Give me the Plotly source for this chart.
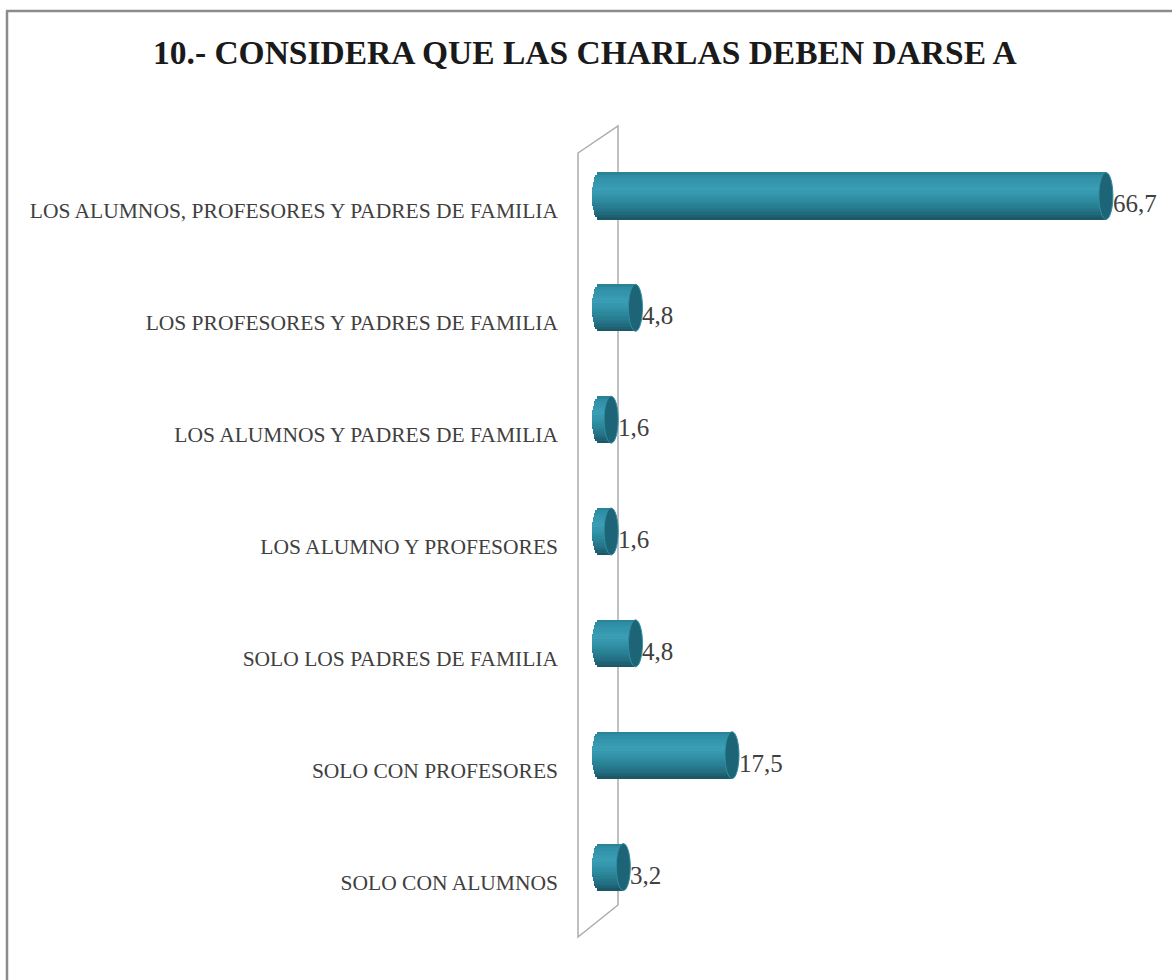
import math
import plotly.graph_objects as go

# ---- data ----
categories = [
    "LOS ALUMNOS, PROFESORES Y PADRES DE FAMILIA",
    "LOS PROFESORES Y PADRES DE FAMILIA",
    "LOS ALUMNOS Y PADRES DE FAMILIA",
    "LOS ALUMNO Y PROFESORES",
    "SOLO LOS PADRES DE FAMILIA",
    "SOLO CON PROFESORES",
    "SOLO CON ALUMNOS",
]
values = [66.7, 4.8, 1.6, 1.6, 4.8, 17.5, 3.2]
value_labels = ["66,7", "4,8", "1,6", "1,6", "4,8", "17,5", "3,2"]
title_text = "10.- CONSIDERA QUE LAS CHARLAS DEBEN DARSE A"

# ---- geometry (pixels) ----
W, H = 1172, 980
X0 = 599          # pixel where value 0 sits
S = 7.6           # pixels per unit
PL, PR = 575, 1165
PT, PB = 140, 923
HW_PX = 7         # half width of cylinder end ellipse
xmin = -(X0 - PL) / S
xmax = (PR - X0) / S
hw = HW_PX / S
bw = 0.42         # bar thickness (category units)

def hex2rgb(h):
    h = h.lstrip("#")
    return tuple(int(h[i:i + 2], 16) for i in (0, 2, 4))

stops = [(0.0, "#2a7e92"), (0.08, "#2f8fa7"), (0.35, "#3c9fb6"),
         (0.6, "#2e8ba1"), (0.85, "#236f82"), (1.0, "#1a5463")]

def grad(t):
    for (t0, c0), (t1, c1) in zip(stops[:-1], stops[1:]):
        if t0 <= t <= t1:
            a = (t - t0) / (t1 - t0) if t1 > t0 else 0
            r0, g0, b0 = hex2rgb(c0)
            r1, g1, b1 = hex2rgb(c1)
            return "rgb(%d,%d,%d)" % (r0 + (r1 - r0) * a, g0 + (g1 - g0) * a, b0 + (b1 - b0) * a)
    return stops[-1][1]

fig = go.Figure()
N = 20
for i in range(N):
    t = (i + 0.5) / N
    b = -hw * math.sqrt(max(0.0, 1 - (2 * t - 1) ** 2))
    fig.add_trace(go.Bar(
        x=[v - b for v in values], y=categories, orientation="h", base=b,
        width=bw / N * 1.08, offset=-bw / 2 + i * bw / N,
        marker=dict(color=grad(t), line=dict(width=0)),
        hoverinfo="skip", showlegend=False,
    ))

shapes = []
def pxx(px):
    return (px - PL) / (PR - PL)
def pxy(py):
    return 1 - (py - PT) / (PB - PT)

# back wall (3D side wall)
wall = [(578, 153), (618, 126), (618, 905), (578, 937)]
path = "M " + " L ".join("%f,%f" % (pxx(a), pxy(b)) for a, b in wall) + " Z"
shapes.append(dict(type="path", xref="paper", yref="paper", path=path,
                   line=dict(color="#acacac", width=1.5), fillcolor="rgba(0,0,0,0)", layer="below"))

# outer frame (top and left)
shapes.append(dict(type="line", xref="paper", yref="paper", x0=pxx(7), x1=pxx(7), y0=pxy(11), y1=pxy(990),
                   line=dict(color="#8c8c8c", width=2.5)))
shapes.append(dict(type="line", xref="paper", yref="paper", x0=pxx(6), x1=pxx(1180), y0=pxy(11), y1=pxy(11),
                   line=dict(color="#8c8c8c", width=2.5)))

for k, v in enumerate(values):
    # end face of cylinder
    shapes.append(dict(type="circle", xref="x", yref="y",
                       x0=v - hw, x1=v + hw, y0=k - bw / 2, y1=k + bw / 2,
                       fillcolor="#1d6576", line=dict(color="#2f8ea5", width=1)))

annotations = []
for k, (v, lab) in enumerate(zip(values, value_labels)):
    annotations.append(dict(x=v, y=k, xref="x", yref="y", text=lab, showarrow=False,
                            xanchor="left", yanchor="middle", xshift=HW_PX - 2, yshift=-8,
                            font=dict(family="Liberation Serif", size=25, color="#404040")))
annotations.append(dict(x=pxx(585), y=pxy(53), xref="paper", yref="paper", text="<b>%s</b>" % title_text,
                        showarrow=False, xanchor="center", yanchor="middle",
                        font=dict(family="Liberation Serif", size=33.5, color="#1a1a1a")))

fig.update_layout(
    width=W, height=H,
    margin=dict(l=PL, r=W - PR, t=PT, b=H - PB, pad=0),
    paper_bgcolor="white", plot_bgcolor="white",
    barmode="overlay", bargap=0,
    shapes=shapes, annotations=annotations,
    xaxis=dict(range=[xmin, xmax], visible=False, showgrid=False, zeroline=False),
    yaxis=dict(type="category", categoryorder="array", categoryarray=categories,
               autorange="reversed", showgrid=False, zeroline=False, showline=False,
               ticks="", ticklabelstandoff=16, ticklabelshift=-15,
               tickfont=dict(family="Liberation Serif", size=21.5, color="#404040")),
)

fig.write_html("out.html", config={"displayModeBar": False},
               post_script="document.body.style.margin='0';")
